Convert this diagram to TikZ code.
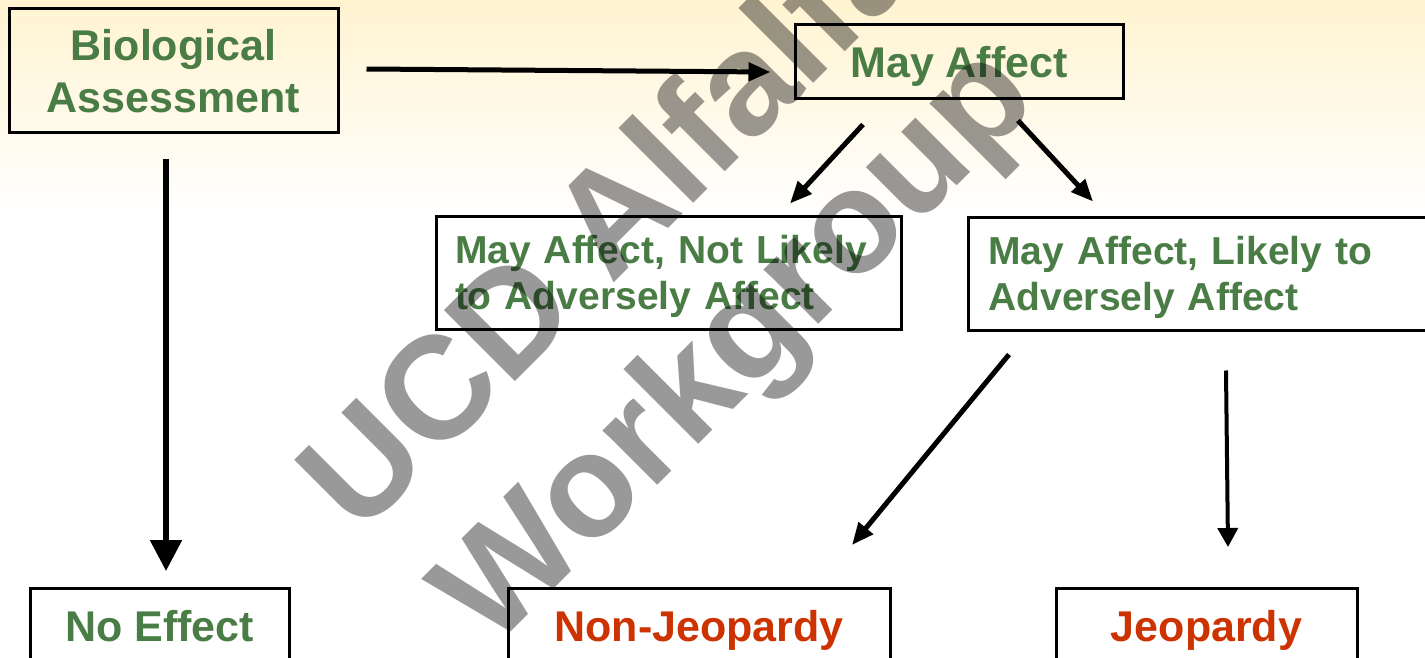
\documentclass[tikz,border=0pt]{standalone}
\usepackage{fontspec}
\setmainfont{Liberation Sans}
\usetikzlibrary{arrows.meta,calc}
\definecolor{bggold}{RGB}{255,243,208}
\definecolor{lgreen}{RGB}{74,124,69}
\definecolor{jred}{RGB}{204,51,0}
\begin{document}
\begin{tikzpicture}[x=1pt,y=-1pt,
  box/.style={draw=black, line width=3pt, inner sep=0pt},
  big/.style={font=\fontsize{43}{51.7}\selectfont\bfseries},
  mid/.style={font=\fontsize{39}{46}\selectfont\bfseries},
  arr/.style={line width=5pt, -{Triangle[length=22pt,width=18pt]}},
  wm/.style={rotate=45, font=\fontsize{146}{146}\selectfont\bfseries, text=black, text opacity=0.4, inner sep=0pt},
]
\useasboundingbox (0,0) rectangle (1425,658);
\clip (0,0) rectangle (1425,658);
\fill[white] (0,0) rectangle (1425,658);
\shade[top color=bggold, bottom color=white] (0,0) rectangle (1425,215);

% nodes
\node[box, big, text=lgreen, minimum width=329pt, minimum height=124pt, align=center] (ba) at (173.5,71) {Biological\\Assessment};
\node[box, big, text=lgreen, minimum width=328pt, minimum height=74pt, text height=31pt, text depth=0pt] (ma) at (959,62) {May Affect};
\node[box, mid, text=lgreen, minimum height=113pt, text width=427pt, inner xsep=19pt, align=left, text depth=46pt] (nlaa) at (668.5,272.5) {May Affect, Not Likely\\to Adversely Affect};
\node[box, mid, text=lgreen, minimum height=113pt, text width=433pt, inner xsep=20pt, align=left, text depth=46pt, anchor=west] (laa) at (967,273.5) {May Affect, Likely to\\Adversely Affect};
\node[box, big, text=lgreen, minimum width=259pt, text height=31pt, text depth=80pt, inner ysep=21.5pt, anchor=north] (noeff) at (159.5,587) {No Effect};
\node[box, big, text=jred, minimum width=382pt, text height=31pt, text depth=80pt, inner ysep=21.5pt, anchor=north] (nonj) at (699,587) {Non-Jeopardy};
\node[box, big, text=jred, minimum width=301pt, text height=31pt, text depth=80pt, inner ysep=21.5pt, anchor=north] (jeop) at (1206.5,587) {Jeopardy};

% connector ends
\coordinate (p1) at ($(ba.east)+(27,-2)$);
\coordinate (q1) at ($(ma.west)+(-23,10)$);
\coordinate (p2) at ($(ma.south)+(-96,24)$);
\coordinate (q2) at ($(nlaa.north)+(121.5,-11)$);
\coordinate (p3) at ($(ma.south)+(59,20)$);
\coordinate (q3) at ($(laa.north west)+(126,-14)$);
\coordinate (p4) at ($(laa.south west)+(42,23)$);
\coordinate (q4) at ($(nonj.north)+(153,-42)$);
\coordinate (p5) at ($(laa.south west)+(259,39)$);
\coordinate (q5) at ($(jeop.north)+(21.5,-40)$);
\coordinate (p6) at ($(ba.south)+(-7.5,25)$);
\coordinate (q6) at ($(noeff.north)+(6.5,-16)$);

\draw[arr] (p1) -- (q1);
\draw[arr] (p2) -- (q2);
\draw[arr] (p3) -- (q3);
\draw[arr] (p4) -- (q4);
\draw[line width=4pt, -{Triangle[length=19pt,width=20pt]}] (p5) -- (q5);
\draw[line width=5.5pt, -{Triangle[length=31pt,width=31pt]}] (p6) -- (q6);

% watermark
\node[wm, anchor=base] (wm1) at (643.5,253.5) {UCD Alfalfa};
\node[wm, anchor=base] (wm2) at (766.5,376.5) {Workgroup};
\end{tikzpicture}
\end{document}
